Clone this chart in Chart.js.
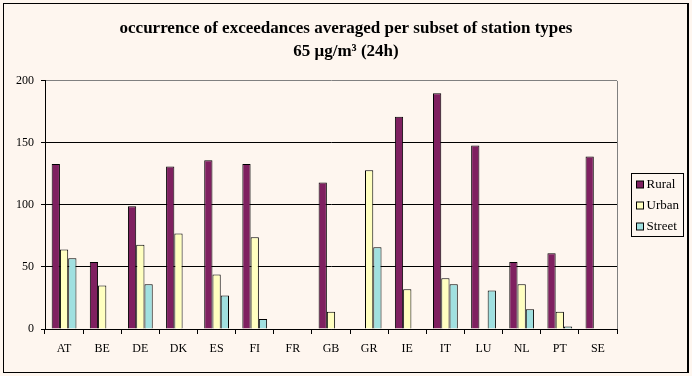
<!DOCTYPE html>
<html>
<head>
<meta charset="utf-8">
<script src="https://cdn.jsdelivr.net/npm/chart.js@4/dist/chart.umd.min.js"></script>
<style>
  html, body { margin: 0; padding: 0; background: #fef6ef; }
  #wrap { position: relative; width: 692px; height: 376px; }
  #frame {
    position: absolute; left: 3px; top: 3px; width: 686px; height: 370px;
    box-sizing: border-box; border: 1px solid #000; border-right-width: 2px;
    pointer-events: none;
  }
</style>
</head>
<body>
<div id="wrap">
  <canvas id="chart" width="692" height="376"></canvas>
  <div id="frame"></div>
</div>
<script>
// categories and values
const countries = ['AT','BE','DE','DK','ES','FI','FR','GB','GR','IE','IT','LU','NL','PT','SE'];
const rural  = [133, 54, 99, 131, 136, 133, null, 118, null, 171, 190, 148, 54, 61, 139];
const urban  = [64, 35, 68, 77, 44, 74, null, 14, 128, 32, 41, null, 36, 14, null];
const street = [57, null, 36, null, 27, 8, null, null, 66, null, 36, 31, 16, 2, null];
const yTicks = [0, 50, 100, 150, 200];

const seriesNames  = ['Rural', 'Urban', 'Street'];
const seriesColors = ['#7f2060', '#ffffc0', '#a0e0e0'];
const serif = "'Liberation Serif', 'Times New Roman', serif";

// grey frame on the right of the plot
const plotBorder = {
  id: 'plotBorder',
  afterDraw(chart) {
    const { ctx, chartArea: a } = chart;
    ctx.save();
    ctx.strokeStyle = '#808080';
    ctx.lineWidth = 1;
    ctx.beginPath();
    ctx.moveTo(Math.round(a.right) + 0.5, a.top);
    ctx.lineTo(Math.round(a.right) + 0.5, a.bottom);
    ctx.stroke();
    ctx.restore();
  }
};

// boxed legend on the right, like the original spreadsheet chart
const boxLegend = {
  id: 'boxLegend',
  afterDraw(chart) {
    const { ctx, chartArea: a } = chart;
    const x = Math.round(a.right) + 14.5;
    const w = 52, rowH = 21, h = 63;
    const y = Math.round((a.top + a.bottom) / 2 - h / 2) + 0.5;
    ctx.save();
    ctx.strokeStyle = '#000';
    ctx.lineWidth = 1;
    ctx.strokeRect(x, y, w, h);
    ctx.font = '13px ' + serif;
    ctx.textBaseline = 'middle';
    chart.data.datasets.forEach((ds, i) => {
      const cy = y + 11 + i * rowH;
      ctx.fillStyle = ds.backgroundColor;
      ctx.fillRect(x + 5, cy - 3.5, 7, 7);
      ctx.strokeRect(x + 5, cy - 3.5, 7, 7);
      ctx.fillStyle = '#000';
      ctx.fillText(ds.label, x + 15, cy);
    });
    ctx.restore();
  }
};

const datasets = [rural, urban, street].map((vals, i) => ({
  label: seriesNames[i],
  data: vals,
  backgroundColor: seriesColors[i],
  borderColor: '#000',
  borderWidth: 1,
  barPercentage: 1,
  categoryPercentage: 0.65
}));

new Chart(document.getElementById('chart'), {
  type: 'bar',
  data: { labels: countries, datasets },
  plugins: [plotBorder, boxLegend],
  options: {
    responsive: false,
    animation: false,
    devicePixelRatio: 1,
    layout: { padding: 0 },
    plugins: {
      legend: { display: false },
      tooltip: { enabled: false },
      title: {
        display: true,
        text: ['occurrence of exceedances averaged per subset of station types', '65 \u03bcg/m\u00b3 (24h)'],
        color: '#000',
        font: { family: serif, size: 17, weight: 'bold', lineHeight: 1.35 },
        padding: { top: 17, bottom: 18 }
      }
    },
    scales: {
      x: {
        afterFit: s => { s.height = 47; },
        grid: { offset: true, drawOnChartArea: false, drawTicks: true, tickLength: 5, tickColor: '#000' },
        border: { color: '#000', width: 1 },
        ticks: { color: '#000', padding: 8, font: { family: serif, size: 12 } }
      },
      y: {
        min: 0,
        max: 200,
        afterFit: s => { s.width = 45; },
        afterBuildTicks: s => { s.ticks = yTicks.map(v => ({ value: v })); },
        grid: {
          color: c => (c.tick && c.tick.value === 200 ? '#808080' : '#000'),
          tickColor: '#000',
          tickLength: 4
        },
        border: { color: '#000', width: 1 },
        ticks: { color: '#000', padding: 7, font: { family: serif, size: 12 } }
      },
      // empty right-hand box that leaves room for the legend
      side: {
        position: 'right',
        min: 0,
        max: 200,
        afterFit: s => { s.width = 75; },
        grid: { display: false },
        border: { display: false },
        ticks: { display: false }
      }
    }
  }
});
</script>
</body>
</html>
